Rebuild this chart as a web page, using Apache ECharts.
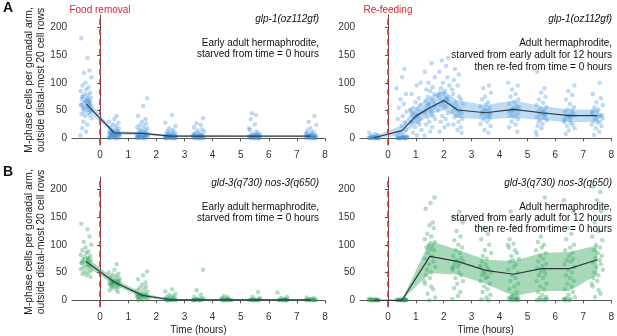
<!DOCTYPE html>
<html>
<head>
<meta charset="utf-8">
<script src="https://cdn.jsdelivr.net/npm/echarts@6/dist/echarts.min.js"></script>
<style>
  html, body { margin: 0; padding: 0; background: #fff; }
  #main { width: 617px; height: 336px; }
</style>
</head>
<body>
<div id="main"></div>
<script>
// ---- data ----
var yTicks = [0, 50, 100, 150, 200];
var xTicks = [0, 1, 2, 3, 4, 5, 6, 7, 8];

// fixed jitter pattern (hours) used to spread the worms horizontally
var JITTER = [-0.17, 0.05, 0.12, -0.08, 0.19, -0.02, -0.13, 0.09, 0.01, -0.19, 0.15, -0.05, 0.07, -0.11, 0.17, 0.03,
  -0.15, 0.11, -0.01, 0.14, -0.09, 0.06, -0.18, 0.18, -0.04, 0.10, -0.12, 0.02, 0.16, -0.07, 0.08, -0.16, 0.13, -0.03,
  0.20, -0.10, 0.04, -0.14, 0.00, -0.20];

// A, left: glp-1 starved
var aLeftTimes = [-0.5, 0.5, 1.5, 2.5, 3.5, 5.5, 7.5];
var aLeftMean = [62, 10, 9, 4, 4, 4, 4];
var aLeftLo = [52, 7, 6, 3, 3, 3, 3];
var aLeftHi = [72, 13, 11, 6, 6, 5, 5];
var aLeftPoints = [
  [180, 145, 122, 118, 110, 100, 95, 92, 88, 85, 82, 80, 78, 75, 73, 72, 70, 68, 66, 65, 64, 62, 60, 58, 57, 55, 53, 52, 50, 48, 46, 44, 42, 40, 36, 30, 25, 18, 12, 5, 60, 70, 64, 56, 50, 67, 75, 59],
  [40, 35, 30, 28, 25, 22, 20, 18, 16, 15, 14, 13, 12, 11, 10, 10, 9, 9, 8, 8, 7, 7, 6, 6, 5, 5, 4, 4, 3, 3, 2, 2, 1, 1, 0, 0, 12, 8, 6, 10],
  [72, 58, 40, 35, 30, 27, 24, 22, 20, 18, 16, 15, 14, 12, 11, 10, 9, 8, 8, 7, 7, 6, 6, 5, 5, 4, 4, 3, 3, 2, 2, 1, 1, 0, 0, 0, 6, 9, 4, 2],
  [42, 28, 22, 18, 15, 13, 12, 10, 9, 8, 7, 6, 6, 5, 5, 4, 4, 3, 3, 3, 2, 2, 2, 1, 1, 1, 0, 0, 0, 0, 5, 3, 2, 1, 4, 0],
  [36, 27, 24, 20, 16, 14, 12, 10, 9, 8, 7, 6, 5, 5, 4, 4, 3, 3, 2, 2, 2, 1, 1, 1, 0, 0, 0, 0, 3, 6, 2, 4],
  [45, 42, 35, 25, 18, 15, 12, 10, 8, 7, 6, 5, 5, 4, 4, 3, 3, 2, 2, 1, 1, 0, 0, 0, 0, 3, 6, 2, 4, 1],
  [40, 30, 24, 18, 14, 12, 10, 8, 7, 6, 5, 5, 4, 4, 3, 3, 2, 2, 1, 1, 0, 0, 0, 0, 3, 6, 2, 4, 1, 9]
];

// A, right: glp-1 re-fed
var aRightTimes = [-0.5, 0.5, 1, 1.5, 2, 2.5, 3.5, 4.5, 5.5, 6.5, 7.5];
var aRightMean = [1, 14, 40, 55, 68, 51, 46, 52, 46, 41, 41];
var aRightLo = [0, 5, 25, 42, 52, 37, 34, 37, 33, 29, 30];
var aRightHi = [3, 24, 56, 75, 86, 68, 60, 68, 58, 52, 52];
var aRightPoints = [
  [10, 8, 6, 5, 4, 3, 3, 2, 2, 1, 1, 1, 0, 0, 0, 0, 0, 2, 1, 0],
  [125, 110, 90, 80, 70, 62, 55, 48, 40, 35, 28, 22, 15, 10, 6, 4, 3, 2, 2, 1, 1, 0, 0, 0, 0, 0, 1, 3, 0, 2],
  [100, 95, 80, 72, 65, 60, 55, 52, 50, 48, 45, 42, 40, 38, 35, 32, 30, 28, 25, 20, 15, 10, 5, 45, 38, 52, 30, 42],
  [135, 120, 110, 100, 92, 88, 85, 80, 75, 70, 68, 65, 62, 60, 58, 55, 52, 50, 48, 45, 42, 40, 38, 35, 30, 25, 20, 12, 5, 56, 62, 48],
  [145, 140, 130, 120, 110, 100, 95, 90, 85, 82, 80, 78, 75, 72, 70, 68, 65, 62, 60, 58, 55, 50, 45, 40, 35, 30, 25, 20, 12, 70, 66, 74],
  [125, 115, 105, 95, 88, 80, 75, 70, 65, 62, 58, 55, 52, 50, 48, 45, 42, 40, 38, 35, 30, 25, 20, 15, 10, 52, 47, 60],
  [95, 90, 82, 75, 70, 65, 60, 57, 55, 52, 50, 48, 46, 44, 42, 40, 38, 36, 34, 30, 26, 22, 15, 10, 46, 50, 43],
  [100, 95, 88, 80, 75, 70, 66, 62, 58, 55, 53, 51, 50, 48, 46, 44, 42, 40, 38, 35, 30, 25, 20, 12, 52, 56, 49],
  [120, 90, 82, 75, 70, 64, 60, 56, 53, 50, 48, 46, 44, 42, 40, 38, 36, 34, 32, 30, 26, 22, 18, 12, 6, 47, 44],
  [95, 85, 78, 70, 62, 56, 52, 50, 48, 45, 43, 41, 40, 38, 36, 34, 32, 30, 28, 25, 22, 18, 14, 8, 42, 40],
  [100, 80, 72, 65, 60, 56, 52, 50, 48, 46, 44, 42, 40, 38, 36, 34, 32, 30, 28, 25, 22, 18, 12, 6, 42, 39]
];

// B, left: gld-3 nos-3 starved
var bLeftTimes = [-0.5, 0.5, 1.5, 2.5, 3.5, 4.5, 5.5, 6.5, 7.5];
var bLeftMean = [70, 33, 9, 1, 1, 1, 1, 1, 1];
var bLeftLo = [62, 28, 5, 0, 0, 0, 0, 0, 0];
var bLeftHi = [78, 39, 13, 2, 2, 2, 2, 2, 2];
var bLeftPoints = [
  [138, 128, 115, 105, 100, 95, 90, 88, 85, 82, 80, 78, 76, 74, 72, 70, 68, 66, 64, 62, 60, 58, 56, 54, 52, 50, 48, 45, 42, 70, 75, 67],
  [65, 55, 50, 48, 46, 44, 42, 40, 38, 36, 35, 34, 33, 32, 31, 30, 29, 28, 27, 26, 25, 24, 22, 20, 18, 15, 33, 36, 30],
  [52, 45, 38, 32, 28, 25, 22, 20, 18, 16, 14, 12, 11, 10, 9, 8, 7, 6, 5, 4, 3, 2, 1, 0, 8, 10, 6],
  [20, 16, 12, 10, 8, 6, 5, 4, 3, 2, 2, 1, 1, 0, 0, 0, 0, 1, 3],
  [55, 18, 10, 6, 4, 3, 2, 1, 1, 0, 0, 0, 0, 0, 1, 2],
  [8, 6, 4, 3, 2, 1, 1, 0, 0, 0, 0, 0, 1, 2],
  [15, 6, 4, 2, 1, 1, 0, 0, 0, 0, 0, 1, 2],
  [14, 6, 4, 2, 1, 1, 0, 0, 0, 0, 0, 1, 2],
  [5, 4, 2, 1, 1, 0, 0, 0, 0, 0, 1, 2]
];

// B, right: gld-3 nos-3 re-fed
var bRightTimes = [-0.5, 0.5, 1.5, 2.5, 3.5, 4.5, 5.5, 6.5, 7.5];
var bRightMean = [0, 0, 79, 70, 54, 47, 57, 57, 73];
var bRightLo = [0, 0, 49, 46, 30, 8, 17, 17, 46];
var bRightHi = [0, 0, 107, 91, 73, 71, 85, 87, 99];
var bRightPoints = [
  [3, 2, 1, 1, 0, 0, 0, 0, 0, 0, 0, 0, 1, 2],
  [3, 2, 1, 1, 0, 0, 0, 0, 0, 0, 0, 0, 1, 2],
  [185, 175, 165, 140, 135, 130, 120, 115, 110, 105, 100, 98, 95, 92, 90, 85, 80, 75, 70, 65, 60, 55, 50, 45, 40, 35, 30, 25, 20, 12, 5, 0],
  [160, 150, 140, 125, 115, 108, 100, 95, 90, 85, 80, 76, 72, 70, 68, 65, 62, 60, 58, 55, 50, 45, 40, 35, 30, 22, 15, 8, 2],
  [150, 130, 120, 110, 100, 90, 85, 80, 75, 70, 65, 62, 60, 58, 55, 52, 50, 48, 45, 42, 40, 35, 30, 25, 20, 15, 10, 5, 2, 0],
  [160, 130, 110, 102, 100, 95, 90, 85, 80, 75, 72, 70, 65, 60, 55, 50, 45, 40, 35, 30, 25, 20, 15, 10, 8, 6, 5, 4, 3, 2, 1, 0, 0, 0, 5, 3],
  [185, 150, 130, 115, 105, 100, 95, 90, 85, 80, 75, 70, 66, 62, 58, 55, 52, 48, 45, 40, 35, 30, 25, 20, 15, 10, 6, 4, 2, 0, 0, 1, 3],
  [180, 160, 130, 120, 110, 100, 95, 90, 85, 80, 75, 72, 70, 65, 60, 55, 50, 45, 40, 35, 30, 25, 20, 15, 10, 6, 4, 2, 0, 0, 1, 3],
  [205, 195, 180, 160, 140, 125, 115, 108, 100, 95, 90, 85, 80, 76, 72, 68, 65, 60, 55, 50, 45, 40, 35, 30, 25, 18, 12, 6]
];

var FONT = '"Liberation Sans", Arial, Helvetica, sans-serif';
var BLUE = { point: '#3a8dd4', band: 'rgba(100,170,226,0.42)' };
var GREEN = { point: '#17954a', band: 'rgba(60,170,100,0.45)' };
var LINE_COLOR = '#2b3a44';
var RED = '#e4222c';

var grids = [
  { left: 72, width: 253, top: 15, height: 130 },
  { left: 360, width: 252, top: 15, height: 130 },
  { left: 72, width: 253, top: 177, height: 131 },
  { left: 360, width: 252, top: 177, height: 131 }
];

var panels = [
  { times: aLeftTimes, mean: aLeftMean, lo: aLeftLo, hi: aLeftHi, pts: aLeftPoints, col: BLUE },
  { times: aRightTimes, mean: aRightMean, lo: aRightLo, hi: aRightHi, pts: aRightPoints, col: BLUE },
  { times: bLeftTimes, mean: bLeftMean, lo: bLeftLo, hi: bLeftHi, pts: bLeftPoints, col: GREEN },
  { times: bRightTimes, mean: bRightMean, lo: bRightLo, hi: bRightHi, pts: bRightPoints, col: GREEN }
];

function scatterData(times, pts) {
  var out = [];
  for (var i = 0; i < times.length; i++) {
    for (var j = 0; j < pts[i].length; j++) {
      out.push([times[i] + JITTER[(j + i * 7) % JITTER.length], pts[i][j]]);
    }
  }
  return out;
}

function bandSeries(p, idx) {
  return {
    type: 'custom',
    xAxisIndex: idx, yAxisIndex: idx,
    silent: true, z: 2,
    data: [0],
    renderItem: function (params, api) {
      var poly = [];
      for (var i = 0; i < p.times.length; i++) poly.push(api.coord([p.times[i], p.lo[i]]));
      for (var k = p.times.length - 1; k >= 0; k--) poly.push(api.coord([p.times[k], p.hi[k]]));
      return { type: 'polygon', shape: { points: poly }, style: { fill: p.col.band, stroke: null } };
    }
  };
}

var xAxes = [], yAxes = [], series = [];
panels.forEach(function (p, idx) {
  var isLeft = idx % 2 === 0;
  var isBottom = idx >= 2;
  xAxes.push({
    gridIndex: idx, type: 'value', min: -1, max: 8,
    name: isBottom ? 'Time (hours)' : '',
    nameLocation: 'middle', nameGap: 18,
    nameTextStyle: { fontFamily: FONT, fontSize: 10, color: '#222' },
    axisLine: { lineStyle: { color: '#555', width: 1 } },
    axisTick: { length: 3, lineStyle: { color: '#555' }, customValues: xTicks },
    axisLabel: { fontFamily: FONT, fontSize: 10, color: '#333', margin: 5, customValues: xTicks },
    splitLine: { show: false }
  });
  yAxes.push({
    gridIndex: idx, type: 'value', min: -12, max: 222,
    name: isLeft ? 'M-phase cells per gonadal arm,\noutside distal-most 20 cell rows' : '',
    nameLocation: 'middle', nameGap: 24,
    nameTextStyle: { fontFamily: FONT, fontSize: 10.4, color: '#222', lineHeight: 11.5 },
    axisLine: { show: true, lineStyle: { color: '#555', width: 1 } },
    axisTick: { show: true, length: 3, lineStyle: { color: '#555' }, customValues: yTicks },
    axisLabel: { fontFamily: FONT, fontSize: 10, color: '#333', margin: 5, customValues: yTicks },
    splitLine: { show: false }
  });
  series.push({
    type: 'scatter', xAxisIndex: idx, yAxisIndex: idx, z: 1,
    symbolSize: 4.5, silent: true,
    itemStyle: { color: p.col.point, opacity: 0.33 },
    data: scatterData(p.times, p.pts)
  });
  series.push(bandSeries(p, idx));
  series.push({
    type: 'line', xAxisIndex: idx, yAxisIndex: idx, z: 3,
    symbol: 'none', silent: true,
    lineStyle: { color: LINE_COLOR, width: 1.2 },
    data: p.times.map(function (t, i) { return [t, p.mean[i]]; }),
    markLine: {
      silent: true, symbol: 'none', label: { show: false },
      lineStyle: { color: RED, width: 1.5, type: [6, 4] },
      data: [{ xAxis: 0 }]
    }
  });
});

function txt(x, y, s, opts) {
  opts = opts || {};
  return {
    type: 'text', x: x, y: y, z: 10, silent: true,
    style: {
      text: s, fontFamily: FONT, fontSize: opts.size || 10,
      fontStyle: opts.italic ? 'italic' : 'normal',
      fontWeight: opts.bold ? 'bold' : 'normal',
      fill: opts.color || '#111',
      align: opts.align || 'right', verticalAlign: 'middle'
    }
  };
}

var texts = [
  txt(3, 8, 'A', { bold: true, size: 14, align: 'left' }),
  txt(3, 172, 'B', { bold: true, size: 14, align: 'left' }),
  txt(100, 10, 'Food removal', { color: RED, align: 'center' }),
  txt(388, 10, 'Re-feeding', { color: RED, align: 'center' }),
  txt(319, 19, 'glp-1(oz112gf)', { italic: true }),
  txt(612, 19, 'glp-1(oz112gf)', { italic: true }),
  txt(319, 43, 'Early adult hermaphrodite,'),
  txt(319, 54.5, 'starved from time = 0 hours'),
  txt(612, 43, 'Adult hermaphrodite,'),
  txt(612, 55, 'starved from early adult for 12 hours'),
  txt(612, 67, 'then re-fed from time = 0 hours'),
  txt(319, 183, 'gld-3(q730) nos-3(q650)', { italic: true }),
  txt(612, 183, 'gld-3(q730) nos-3(q650)', { italic: true }),
  txt(319, 207, 'Early adult hermaphrodite,'),
  txt(319, 218, 'starved from time = 0 hours'),
  txt(612, 207, 'Adult hermaphrodite,'),
  txt(612, 218, 'starved from early adult for 12 hours'),
  txt(612, 229, 'then re-fed from time = 0 hours')
];

var myChart = echarts.init(document.getElementById('main'), null, { renderer: 'canvas' });
myChart.setOption({
  animation: false,
  backgroundColor: '#fff',
  grid: grids,
  xAxis: xAxes,
  yAxis: yAxes,
  series: series,
  graphic: texts
});
</script>
</body>
</html>
